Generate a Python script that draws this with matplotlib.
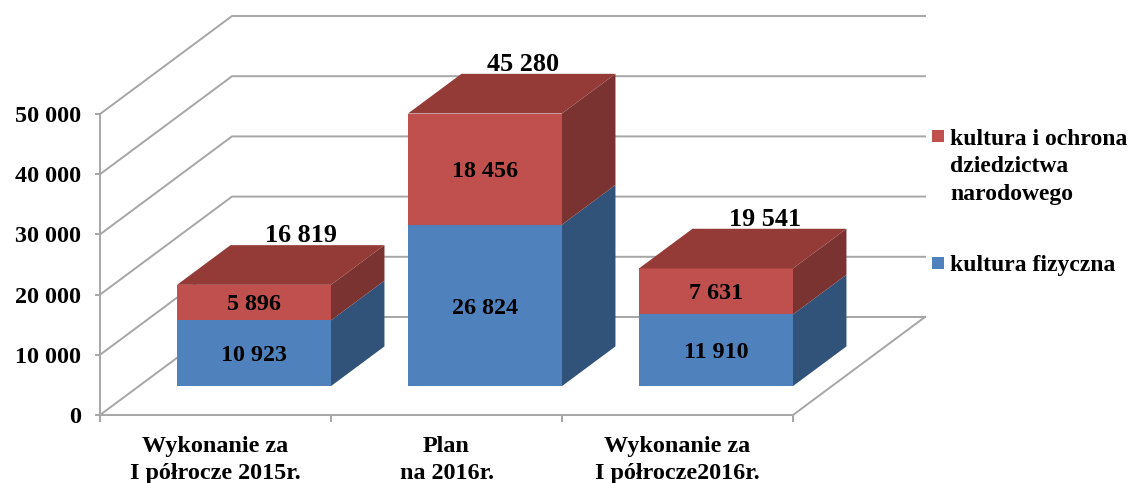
import matplotlib
matplotlib.use("Agg")
import matplotlib.pyplot as plt
from matplotlib.patches import Rectangle

# Dane
categories = ["Wykonanie za\nI półrocze 2015r.", "Plan\nna 2016r.", "Wykonanie za\nI półrocze2016r."]
kultura_fizyczna = [10923, 26824, 11910]
kultura_ochrona = [5896, 18456, 7631]
legend_labels = ["kultura i ochrona\ndziedzictwa\nnarodowego", "kultura fizyczna"]
y_ticks = [0, 10000, 20000, 30000, 40000, 50000]
total_dx = [47, 38, 49]  # przesuniecie etykiet sum w pikselach

W, H = 1131, 483
plt.rcParams["font.family"] = ["Liberation Serif", "DejaVu Serif"]
plt.rcParams["font.weight"] = "bold"

fig = plt.figure(figsize=(W / 100, H / 100), dpi=100)
ax = fig.add_axes([100 / W, 1 - 415 / H, 693 / W, 301 / H])
ax.set_xlim(0, 3)
ax.set_ylim(0, 50000)
ax.patch.set_visible(False)

# przesuniecie glebokosci (os x w kategoriach, os y w wartosciach)
depth_x = 132 / 231
depth_y = 98 / 301 * 50000
front = 0.295
back = 0.70
bar_w = 2 / 3
grid_c = "#a6a6a6"


def shift(x, y, d):
    return x + d * depth_x, y + d * depth_y


def box(i, y0, y1, face, side, top=None):
    x0 = i + 1 - bar_w - front * depth_x
    x1 = x0 + bar_w
    p = [shift(x0, y0, front), shift(x1, y0, front), shift(x1, y1, front), shift(x0, y1, front)]
    ax.fill(*zip(*p), color=face, lw=0, clip_on=False, zorder=3)
    p = [shift(x1, y0, front), shift(x1, y0, back), shift(x1, y1, back), shift(x1, y1, front)]
    ax.fill(*zip(*p), color=side, lw=0, clip_on=False, zorder=3)
    if top:
        p = [shift(x0, y1, front), shift(x1, y1, front), shift(x1, y1, back), shift(x0, y1, back)]
        ax.fill(*zip(*p), color=top, lw=0, clip_on=False, zorder=3)
    return x0, x1


# siatka
x_wall, y_off = shift(0, 0, 1)
x_end = 3 + depth_x
for v in y_ticks:
    ax.plot([0, x_wall, x_end], [v, v + y_off, v + y_off], color=grid_c, lw=1.4, clip_on=False, zorder=1)
ax.plot([3, x_end], [0, y_off], color=grid_c, lw=1.4, clip_on=False, zorder=1)

# slupki
for i, (a, b) in enumerate(zip(kultura_fizyczna, kultura_ochrona)):
    x0, x1 = box(i, 0, a, "#4f81bd", "#325379")
    box(i, a, a + b, "#c0504d", "#7b3331", "#943b38")
    xc = (x0 + x1) / 2 + front * depth_x
    ax.text(xc, a / 2 + front * depth_y - 450, f"{a:,}".replace(",", " "), ha="center", va="center", fontsize=17.3, zorder=4)
    ax.text(xc, a + b / 2 + front * depth_y - 350, f"{b:,}".replace(",", " "), ha="center", va="center", fontsize=17.3, zorder=4)
    ax.annotate(f"{a + b:,}".replace(",", " "), (xc, a + b + front * depth_y), xytext=(total_dx[i], 49),
                textcoords="offset pixels", ha="center", va="center", fontsize=18.8, zorder=4,
                annotation_clip=False)

# osie
for s in ["top", "right"]:
    ax.spines[s].set_visible(False)
for s in ["left", "bottom"]:
    ax.spines[s].set_color(grid_c)
    ax.spines[s].set_linewidth(1.4)
ax.set_xticks([0, 1, 2, 3])
ax.set_xticklabels([])
ax.set_xticks([0.5, 1.5, 2.5], categories, minor=True)
ax.set_yticks(y_ticks, [f"{v:,}".replace(",", " ") for v in y_ticks])
ax.tick_params(axis="x", which="major", color=grid_c, length=5, width=1.4)
ax.tick_params(axis="x", which="minor", length=0, pad=15, labelsize=17.4)
for lab in ax.get_xticklabels(minor=True):
    lab.set_linespacing(1.4)
ax.tick_params(axis="y", color=grid_c, length=3.6, width=1.4, pad=10, labelsize=17.4)

# legenda
fig.add_artist(Rectangle((932 / W, 1 - 142 / H), 12 / W, 12 / H, color="#c0504d", lw=0))
fig.add_artist(Rectangle((932 / W, 1 - 269 / H), 12 / W, 12 / H, color="#4f81bd", lw=0))
fig.text(950 / W, 1 - 167 / H, legend_labels[0], ha="left", va="center", fontsize=17, linespacing=1.38)
fig.text(950 / W, 1 - 265 / H, legend_labels[1], ha="left", va="center", fontsize=17)

fig.savefig("out.png", dpi=100)
